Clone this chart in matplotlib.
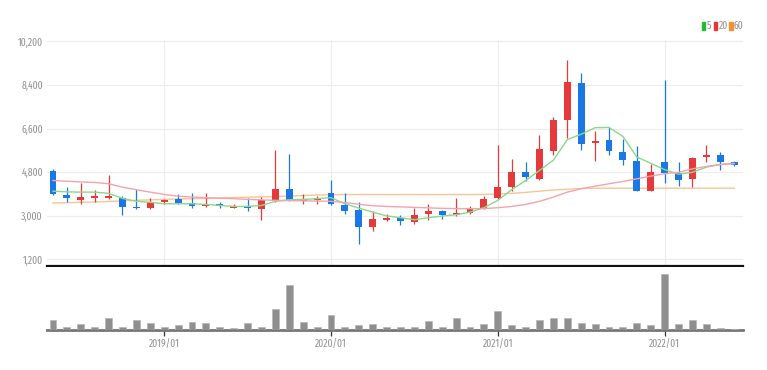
import numpy as np
import pandas as pd
import matplotlib
matplotlib.use('Agg')
import matplotlib.pyplot as plt
from matplotlib.patches import Rectangle

# 월봉 데이터 (2018/05 ~ 2022/06)
months = pd.date_range('2018-05-01', periods=50, freq='MS').strftime('%Y/%m').tolist()

opens  = [4870, 3880, 3670, 3730, 3750, 3750, 3360, 3320, 3560, 3690,
          3540, 3400, 3470, 3340, 3400, 3300, 3640, 4090, 3600, 3640,
          3950, 3460, 3250, 2540, 2810, 2920, 2740, 3090, 3220, 3020,
          3110, 3320, 3730, 4190, 4800, 4530, 5670, 6970, 8490, 6000,
          6140, 5630, 5260, 4010, 5220, 4780, 4530, 5420, 5520, 5210]
highs  = [4950, 4210, 4370, 4050, 4700, 3800, 4090, 3730, 3700, 3910,
          3950, 3950, 3570, 3500, 3750, 3770, 5700, 5560, 3910, 3800,
          4460, 3940, 3570, 3180, 3090, 3020, 3340, 3500, 3230, 3720,
          3400, 3800, 5940, 5360, 5210, 6320, 7100, 9430, 8880, 6520,
          6660, 6180, 5900, 5150, 8610, 5210, 5450, 5930, 5630, 5250]
lows   = [3850, 3570, 3470, 3570, 3700, 3020, 3300, 3300, 3500, 3470,
          3340, 3360, 3340, 3310, 3180, 2840, 3570, 3610, 3500, 3500,
          3430, 3090, 1820, 2370, 2780, 2640, 2680, 2810, 2870, 2980,
          3090, 3280, 3700, 4010, 4420, 4460, 5530, 6220, 5700, 5260,
          5530, 5080, 4010, 4010, 4350, 4250, 4190, 5220, 4900, 5050]
closes = [3910, 3730, 3770, 3830, 3810, 3360, 3310, 3570, 3670, 3540,
          3390, 3470, 3390, 3420, 3340, 3640, 4090, 3670, 3690, 3720,
          3500, 3180, 2540, 2850, 2920, 2770, 3020, 3220, 3050, 3110,
          3320, 3710, 4190, 4800, 4600, 5740, 6970, 8510, 5970, 6110,
          5670, 5310, 4010, 4800, 4780, 4490, 5400, 5530, 5220, 5080]

ma5  = [4020, 3990, 3980, 3980, 3930, 3720, 3600, 3560, 3500, 3500,
        3500, 3470, 3430, 3390, 3390, 3430, 3600, 3665, 3680, 3710,
        3750, 3500, 3320, 3155, 3000, 2925, 2840, 2925, 2990, 3050,
        3155, 3336, 3637, 4078, 4460, 4873, 5300, 6150, 6370, 6640,
        6650, 6280, 5430, 5170, 4910, 4720, 4800, 5010, 5120, 5150]
ma20 = [4460, 4430, 4400, 4380, 4325, 4185, 4080, 3980, 3885, 3815,
        3775, 3750, 3730, 3710, 3680, 3660, 3640, 3630, 3620, 3610,
        3600, 3550, 3480, 3420, 3390, 3370, 3350, 3330, 3310, 3300,
        3295, 3300, 3336, 3390, 3470, 3600, 3775, 3980, 4120, 4225,
        4325, 4420, 4530, 4640, 4740, 4800, 4940, 5040, 5120, 5170]
ma60 = [3530, 3545, 3560, 3575, 3590, 3620, 3640, 3660, 3680, 3695,
        3705, 3720, 3740, 3755, 3770, 3785, 3800, 3820, 3840, 3860,
        3875, 3880, 3880, 3880, 3880, 3880, 3880, 3880, 3880, 3880,
        3880, 3885, 3900, 3930, 3970, 4020, 4070, 4100, 4130, 4140,
        4140, 4140, 4140, 4140, 4140, 4140, 4140, 4140, 4140, 4140]

volume = [1000, 330, 570, 270, 1170, 330, 1000, 670, 270, 500,
          830, 670, 330, 170, 670, 330, 2070, 4500, 830, 330,
          1500, 330, 500, 570, 330, 330, 330, 900, 330, 1230,
          330, 570, 1900, 500, 270, 1000, 1170, 1170, 730, 570,
          270, 330, 730, 500, 5600, 570, 1000, 570, 230, 80]

year_ticks = ['2019/01', '2020/01', '2021/01', '2022/01']
price_ticks = [1200, 3000, 4800, 6600, 8400, 10200]

UP = '#e5393b'
DOWN = '#1a78e6'
GRID = '#ececec'
LABEL = '#939393'
plt.rcParams['font.family'] = ['Fira Sans Extra Condensed', 'DejaVu Sans']

fig = plt.figure(figsize=(7.67, 3.70), dpi=100)
ax = fig.add_axes([47/767, 1-266/370, 696/767, 226/370])
axv = fig.add_axes([47/767, 1-330/370, 696/767, 63/370])

x = np.arange(len(months))
tick_pos = [months.index(t) for t in year_ticks]

# 가격 캔들
for i in x:
    o, h, l, c = opens[i], highs[i], lows[i], closes[i]
    col = UP if c >= o else DOWN
    ax.vlines(i, l, h, color=col, lw=0.9, zorder=3)
    ax.bar(i, abs(c - o), bottom=min(o, c), width=0.5, color=col, zorder=4)

ax.plot(x, ma5, color='#8ad88a', lw=1.0, zorder=5)
ax.plot(x, ma20, color='#f4a3ad', lw=1.0, zorder=5)
ax.plot(x, ma60, color='#f6c596', lw=1.0, zorder=2)

ax.set_xlim(-0.43, 49.64)
ax.set_ylim(930, 10260)
ax.set_yticks(price_ticks)
ax.set_yticklabels([f'{v:,}' for v in price_ticks], color=LABEL, fontsize=7.5)
ax.set_xticks(tick_pos)
ax.tick_params(axis='x', length=0, labelbottom=False)
ax.tick_params(axis='y', length=0, pad=3)
ax.grid(True, color=GRID, lw=0.8, zorder=0)
for s in ['top', 'right', 'left']:
    ax.spines[s].set_visible(False)
ax.spines['bottom'].set_color('#111111')
ax.spines['bottom'].set_linewidth(1.6)

# 거래량
axv.bar(x, volume, width=0.5, color='#8f8f8f', edgecolor='#b5b5b5', lw=0.5, zorder=3)
axv.set_xlim(-0.43, 49.64)
axv.set_ylim(0, 6300)
axv.set_yticks([])
axv.set_xticks(tick_pos)
axv.set_xticklabels(year_ticks, color=LABEL, fontsize=7.5)
axv.tick_params(axis='x', length=4, width=0.9, color='#333333', pad=3)
for s in ['top', 'right', 'left']:
    axv.spines[s].set_visible(False)
axv.spines['bottom'].set_color('#777777')
axv.spines['bottom'].set_linewidth(2)

# 범례
legend = [('5', '#22bb33', 701.5), ('20', '#e53535', 713.5), ('60', '#f0922e', 729)]
for txt, col, px in legend:
    fig.patches.append(Rectangle((px/767, 1-30/370), 3.5/767, 8/370,
                                 transform=fig.transFigure, color=col))
    fig.text((px + 5)/767, 1-26/370, txt, color=LABEL, fontsize=7.5, va='center', ha='left')

fig.savefig('out.png', dpi=100)
